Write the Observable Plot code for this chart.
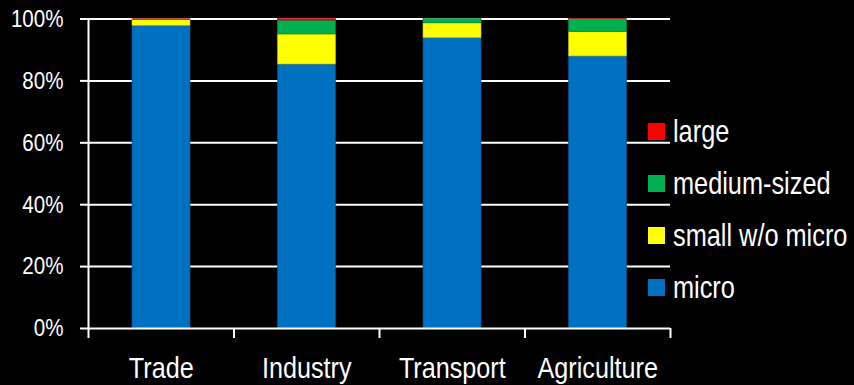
<!DOCTYPE html>
<html>
<head>
<meta charset="utf-8">
<script src="https://cdn.jsdelivr.net/npm/d3@7"></script>
<script src="https://cdn.jsdelivr.net/npm/@observablehq/plot@0.6"></script>
<style>
  html, body { margin: 0; padding: 0; background: #000; }
  #wrap { position: relative; width: 854px; height: 385px; background: #000; overflow: hidden; }
  .f { font-family: "Liberation Sans", Arial, sans-serif; }
  #legend { position: absolute; left: 648px; top: 0; color: #fff; font-size: 30.5px; }
  #legend .item { position: absolute; left: 0; display: flex; align-items: center; white-space: nowrap; height: 30px; }
  #legend .sw { width: 17px; height: 17px; margin-right: 8px; flex: none; }
  #legend .tx { display: inline-block; transform: scaleX(0.83); transform-origin: left center; }
</style>
</head>
<body>
<div id="wrap" class="f"><div id="chart"></div><div id="legend" class="f"></div></div>
<script>
const categories = ["Trade", "Industry", "Transport", "Agriculture"];
const series = ["micro", "small w/o micro", "medium-sized", "large"];
const micro   = [97.8, 85.3, 93.8, 87.9];
const small   = [1.9, 9.7, 4.8, 7.9];
const medium  = [0.15, 4.5, 1.4, 4.15];
const large   = [0.05, 0.5, 0.0, 0.05];
const colors  = ["#0070C0", "#FFFF00", "#00B050", "#FF0000"];
const yTicks  = [0, 0.2, 0.4, 0.6, 0.8, 1.0];

const valuesBySeries = [micro, small, medium, large];
const rows = [];
categories.forEach((c, i) => {
  let base = 0;
  series.forEach((s, k) => {
    const v = valuesBySeries[k][i] / 100;
    rows.push({cat: c, idx: i, series: s, y1: base, y2: base + v});
    base += v;
  });
});

const W = 854, H = 385;
const plot = Plot.plot({
  width: W, height: H,
  marginLeft: 88, marginRight: 184, marginTop: 18.5, marginBottom: 57,
  style: {background: "#000", color: "#fff", fontFamily: '"Liberation Sans", Arial, sans-serif'},
  x: {type: "linear", domain: [0, categories.length], axis: null},
  y: {domain: [0, 1], axis: null},
  color: {domain: series, range: colors},
  marks: [
    Plot.ruleY(yTicks.filter(d => d > 0), {stroke: "#fff", strokeWidth: 2}),
    Plot.rectY(rows, {
      x1: d => d.idx, x2: d => d.idx + 1, y1: "y1", y2: "y2",
      fill: "series", insetLeft: 44, insetRight: 43.5,
      stroke: d => d3.color(colors[series.indexOf(d.series)]).darker(0.8).formatHex(),
      strokeWidth: 0.6
    }),
    Plot.ruleX([0], {y1: 0, y2: 1, stroke: "#fff", strokeWidth: 2}),
    Plot.ruleY([0], {stroke: "#fff", strokeWidth: 2}),
    Plot.axisY({ticks: yTicks, tickFormat: d => Math.round(d * 100) + "%", tickSize: 8, tickPadding: 17, fontSize: 24.5, stroke: "#fff", strokeWidth: 2, fill: "#fff", label: null}),
    Plot.axisX({ticks: d3.range(categories.length + 1), tickFormat: () => "", tickSize: 10, stroke: "#fff", strokeWidth: 2, label: null}),
    Plot.axisX({ticks: categories.map((c, i) => i + 0.5), tickFormat: d => categories[Math.floor(d)], tickSize: 0, tickPadding: 27.7, fontSize: 30, fill: "#fff", label: null})
  ]
});
document.getElementById("chart").appendChild(plot);

// condense axis text horizontally around its anchor (narrow typeface look)
const SX = 0.84;
plot.querySelectorAll("text").forEach(t => {
  if (!t.textContent) return;
  const bb = t.getBBox();
  const anchor = getComputedStyle(t).textAnchor;
  let ax = bb.x;
  if (anchor === "middle") ax = bb.x + bb.width / 2;
  else if (anchor === "end") ax = bb.x + bb.width;
  if (!isFinite(ax)) return;
  const T = t.getAttribute("transform") || "";
  t.setAttribute("transform", `${T} translate(${ax},0) scale(${SX},1) translate(${-ax},0)`.trim());
});

const legendOrder = ["large", "medium-sized", "small w/o micro", "micro"];
const legendY = [131, 183, 235, 287];
const leg = document.getElementById("legend");
legendOrder.forEach((s, j) => {
  const it = document.createElement("div");
  it.className = "item";
  it.style.top = (legendY[j] - 15) + "px";
  const sw = document.createElement("span");
  sw.className = "sw";
  sw.style.background = colors[series.indexOf(s)];
  const t = document.createElement("span");
  t.className = "tx";
  t.textContent = s;
  it.appendChild(sw); it.appendChild(t);
  leg.appendChild(it);
});
</script>
</body>
</html>
